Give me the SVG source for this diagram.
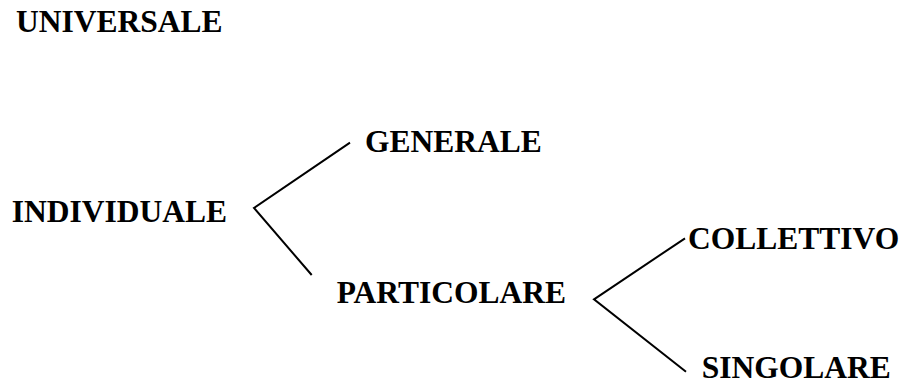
<svg xmlns="http://www.w3.org/2000/svg" width="905" height="392" viewBox="0 0 905 392">
<style>
.t{font-family:"Liberation Serif","Times New Roman",serif;font-weight:bold;font-size:31.5px;fill:#000}
.c{stroke:#000;stroke-width:2;fill:none;stroke-linecap:butt;stroke-linejoin:miter}
</style>
<rect width="905" height="392" fill="#fff"/>
<g id="universale"><text class="t" x="16" y="32.3">UNIVERSALE</text></g>
<g id="individuale"><text class="t" x="11.7" y="221.7">INDIVIDUALE</text></g>
<g id="generale"><text class="t" x="365" y="152.3">GENERALE</text></g>
<g id="particolare"><text class="t" x="336.7" y="303.3">PARTICOLARE</text></g>
<g id="collettivo"><text class="t" x="688" y="249.3">COLLETTIVO</text></g>
<g id="singolare"><text class="t" x="701.7" y="378.3">SINGOLARE</text></g>
<g id="connectors">
<polyline class="c" points="350,142.7 254,208 311.7,275"/>
<polyline class="c" points="685,238.3 594,299.3 686,371.7"/>
</g>
</svg>
